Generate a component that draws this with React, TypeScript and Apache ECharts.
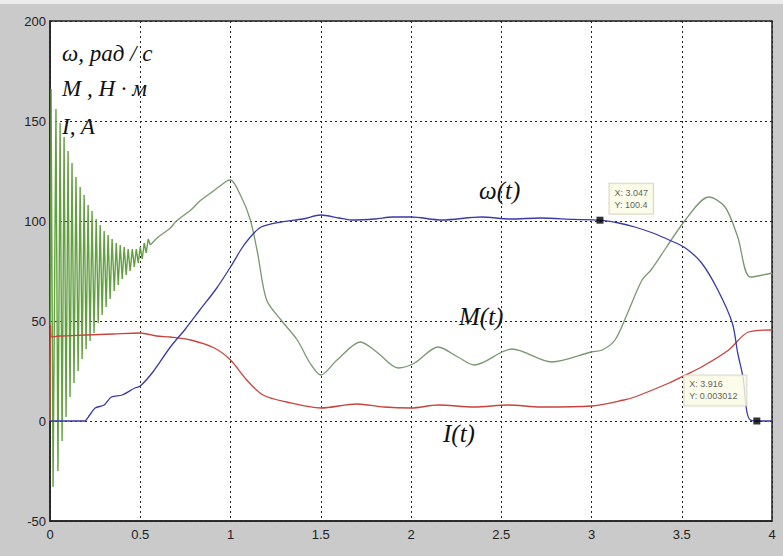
import React, { useEffect, useRef } from "react";
import * as echarts from "echarts";

// x ticks / y ticks
const xTicks = [0, 0.5, 1, 1.5, 2, 2.5, 3, 3.5, 4];
const yTicks = [-50, 0, 50, 100, 150, 200];

// ω(t), rad/s
const wT = [0, 0.05, 0.1, 0.19, 0.22, 0.25, 0.3, 0.34, 0.4, 0.47, 0.5, 0.57, 0.667, 0.75, 0.83, 0.92, 1.0, 1.06, 1.11, 1.17, 1.28, 1.4, 1.5, 1.6, 1.67, 1.8, 1.9, 2.0, 2.17, 2.39, 2.55, 2.72, 2.9, 3.047, 3.15, 3.24, 3.34, 3.43, 3.52, 3.61, 3.7, 3.78, 3.81, 3.84, 3.86, 3.88, 3.916, 4.0];
const wV = [0, 0, 0, 0, 3, 6.5, 8, 12, 13, 16.5, 17.5, 24.5, 37, 46, 55.5, 66, 77, 86, 92, 97, 99.5, 101, 103, 101.5, 100.5, 101, 102, 102, 100.5, 102, 101, 101.5, 100.8, 100.4, 99, 97, 94, 90.5, 86.5, 79, 65.5, 49, 34, 21.5, 5, 0.5, 0.003012, 0];

// I(t), A
const iT = [0, 0.003, 0.01, 0.05, 0.2, 0.35, 0.5, 0.59, 0.667, 0.78, 0.91, 1.0, 1.09, 1.18, 1.31, 1.5, 1.7, 1.85, 2.0, 2.15, 2.35, 2.54, 2.72, 3.0, 3.18, 3.24, 3.43, 3.52, 3.61, 3.76, 3.87, 4.0];
const iV = [0, 48, 42, 42.5, 43, 43.5, 44, 42.5, 42, 40.5, 36.5, 30.5, 20.5, 13, 9.5, 6.5, 8.5, 7, 6.5, 8, 7, 8, 7, 7.5, 10.5, 12, 19, 23, 27, 35.5, 44.5, 45.5];

// M(t), N·m — start-up oscillation (peaks / troughs)
const mOscT = [0, 0.006, 0.017, 0.033, 0.044, 0.056, 0.067, 0.078, 0.089, 0.1, 0.111, 0.122, 0.133, 0.144, 0.156, 0.167, 0.178, 0.189, 0.2, 0.211, 0.222, 0.233, 0.244, 0.256, 0.267, 0.278, 0.289, 0.3, 0.311, 0.322, 0.333, 0.344, 0.356, 0.367, 0.378, 0.389, 0.4, 0.411, 0.422, 0.433, 0.444, 0.456, 0.467, 0.478, 0.489, 0.5, 0.511, 0.522, 0.533, 0.544, 0.556];
const mOscV = [0, 166, -33, 156, -25, 149, -10, 142, 2, 135, 12, 129, 19, 122, 25, 117, 31, 113, 36, 108, 40, 105, 44, 101, 49, 98, 53, 95, 57, 93, 61, 91, 65, 89, 68, 88, 71, 87, 73, 86, 75, 86, 77, 86, 79, 87, 81, 89, 84, 91, 88];
// M(t) — smooth part
const mT = [0.556, 0.6, 0.667, 0.7, 0.78, 0.83, 0.89, 0.98, 1.0, 1.06, 1.11, 1.15, 1.2, 1.28, 1.37, 1.44, 1.5, 1.59, 1.72, 1.81, 1.93, 2.02, 2.15, 2.26, 2.35, 2.56, 2.78, 3.0, 3.06, 3.13, 3.2, 3.28, 3.33, 3.52, 3.65, 3.74, 3.81, 3.88, 4.0];
const mV = [88, 92, 96.5, 100, 105.5, 110, 114, 120, 120.5, 112, 100.5, 84, 60.5, 50.5, 40.5, 29, 23, 30.5, 39.5, 34.5, 26.5, 29, 37, 32, 28, 36, 29.5, 34.5, 35.5, 40.5, 54, 70.5, 75.5, 100.5, 112, 107, 92, 72, 74];

// data tips
const tipX = [3.047, 3.916];
const tipY = [100.4, 0.003012];
const tipText = ["X: 3.047\nY: 100.4", "X: 3.916\nY: 0.003012"];

const zip = (a: number[], b: number[]) => a.map((v, i) => [v, b[i]]);

export default function App() {
  const ref = useRef<HTMLDivElement>(null);
  useEffect(() => {
    if (!ref.current) return;
    const chart = echarts.init(ref.current, null, { renderer: "svg" });
    const serif = "'Liberation Serif', 'DejaVu Serif', serif";
    const sans = "'Liberation Sans', Arial, sans-serif";
    chart.setOption({
      animation: false,
      backgroundColor: "#cacaca",
      grid: {
        left: 50,
        top: 21,
        right: 11,
        bottom: 35,
        show: true,
        backgroundColor: "#ffffff",
        borderColor: "#222",
        borderWidth: 1.5,
      },
      xAxis: {
        type: "value",
        min: xTicks[0],
        max: xTicks[xTicks.length - 1],
        interval: 0.5,
        axisLine: { show: true, onZero: false, lineStyle: { color: "#222", width: 1.5 } },
        axisTick: { show: false },
        splitLine: { show: true, lineStyle: { color: "#222", type: [2, 3], width: 1 } },
        axisLabel: { color: "#222", fontFamily: sans, fontSize: 13, margin: 7 },
      },
      yAxis: {
        type: "value",
        min: yTicks[0],
        max: yTicks[yTicks.length - 1],
        interval: 50,
        axisLine: { show: true, onZero: false, lineStyle: { color: "#222", width: 1.5 } },
        axisTick: { show: false },
        splitLine: { show: true, lineStyle: { color: "#222", type: [2, 3], width: 1 } },
        axisLabel: { color: "#222", fontFamily: sans, fontSize: 13, margin: 4 },
      },
      series: [
        {
          name: "M osc",
          type: "line",
          data: zip(mOscT, mOscV),
          showSymbol: false,
          smooth: false,
          lineStyle: { color: "#62a040", width: 1.4 },
          z: 2,
        },
        {
          name: "M",
          type: "line",
          data: zip(mT, mV),
          showSymbol: false,
          smooth: 0.3,
          lineStyle: { color: "#7a9870", width: 1.3 },
          z: 2,
        },
        {
          name: "I",
          type: "line",
          data: zip(iT, iV),
          showSymbol: false,
          smooth: 0.3,
          lineStyle: { color: "#c8433c", width: 1.3 },
          z: 3,
        },
        {
          name: "w",
          type: "line",
          data: zip(wT, wV),
          showSymbol: false,
          smooth: 0.3,
          lineStyle: { color: "#3a3aa8", width: 1.3 },
          z: 4,
        },
        {
          name: "tips",
          type: "scatter",
          symbol: "rect",
          symbolSize: 7,
          itemStyle: { color: "#000" },
          z: 10,
          data: [
            {
              value: [tipX[0], tipY[0]],
              label: {
                show: true,
                formatter: tipText[0],
                position: [13, -33],
              },
            },
            {
              value: [tipX[1], tipY[1]],
              label: {
                show: true,
                formatter: tipText[1],
                position: [-69, -42],
                padding: [3, 9, 3, 5],
              },
            },
          ],
          label: {
            color: "#333",
            fontFamily: sans,
            fontSize: 9,
            lineHeight: 12,
            backgroundColor: "#fbfbe6",
            borderColor: "#cfcfb8",
            borderWidth: 1,
            padding: [3, 5, 3, 5],
          },
        },
      ],
      graphic: [
        { type: "rect", left: 0, top: 0, shape: { width: 783, height: 4 }, style: { fill: "#ececec" }, silent: true },
        { type: "text", x: 62, y: 53, style: { text: "ω, рад / с", font: `italic 23px ${serif}`, fill: "#111", verticalAlign: "middle" } },
        { type: "text", x: 62, y: 88, style: { text: "M , Н · м", font: `italic 23px ${serif}`, fill: "#111", verticalAlign: "middle" } },
        { type: "text", x: 62, y: 126, style: { text: "I, A", font: `italic 23px ${serif}`, fill: "#111", verticalAlign: "middle" } },
        { type: "text", x: 479, y: 190, style: { text: "ω(t)", font: `italic 25px ${serif}`, fill: "#111", verticalAlign: "middle" } },
        { type: "text", x: 459, y: 316, style: { text: "M(t)", font: `italic 25px ${serif}`, fill: "#111", verticalAlign: "middle" } },
        { type: "text", x: 443, y: 433, style: { text: "I(t)", font: `italic 25px ${serif}`, fill: "#111", verticalAlign: "middle" } },
      ],
    });
    return () => chart.dispose();
  }, []);
  return (
    <div
      ref={ref}
      style={{ position: "absolute", left: 0, top: 0, width: 783, height: 556 }}
    />
  );
}
